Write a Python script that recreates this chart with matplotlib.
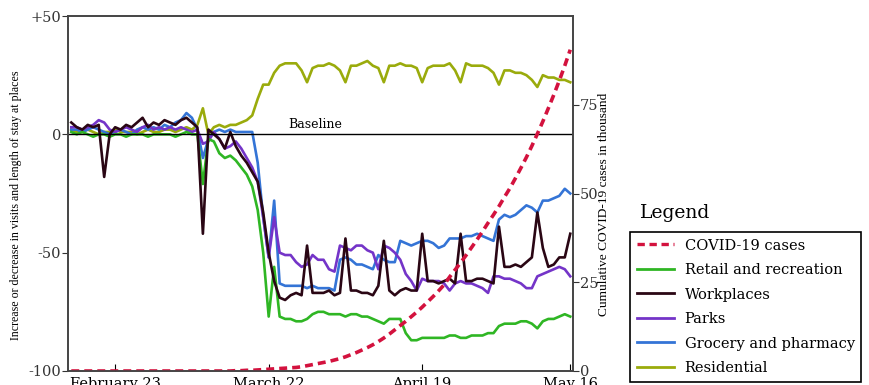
import matplotlib
matplotlib.use("Agg")
import matplotlib.pyplot as plt
from matplotlib.lines import Line2D

# day index 0 = February 15
days = list(range(92))
tick_days = [8, 36, 64, 91]
tick_labels = ["February 23", "March 22", "April 19", "May 16"]

residential = [2, 1, 1, 2, 1, 0, 1, 1, 2, 1, 1, 1, 0, 1, 2, 1, 1, 2, 2, 1, 2, 3, 2, 4,
               11, 0, 3, 4, 3, 4, 4, 5, 6, 8, 15, 21, 21, 26, 29, 30, 30, 30, 27, 22,
               28, 29, 29, 30, 29, 27, 22, 29, 29, 30, 31, 29, 28, 22, 29, 29, 30, 29,
               29, 28, 22, 28, 29, 29, 29, 30, 27, 22, 30, 29, 29, 29, 28, 26, 21, 27,
               27, 26, 26, 25, 23, 20, 25, 24, 24, 23, 23, 22]
workplaces = [5, 3, 2, 4, 3, 4, -18, 0, 3, 2, 4, 3, 5, 7, 3, 5, 4, 6, 5, 4, 6, 7, 5, 3,
              -42, 2, 0, -2, -6, 1, -5, -9, -12, -16, -20, -33, -50, -62, -69, -70, -68,
              -67, -68, -47, -67, -67, -67, -66, -68, -67, -44, -66, -66, -67, -67, -68,
              -64, -45, -66, -68, -66, -65, -66, -66, -42, -62, -62, -63, -62, -61, -63,
              -42, -62, -62, -61, -61, -62, -63, -39, -56, -56, -55, -56, -54, -52, -33,
              -48, -56, -55, -52, -52, -42]
retail = [1, 0, 1, 0, -1, 0, 0, -1, 0, 0, -1, 0, 0, 0, -1, 0, 0, 0, 0, -1, 0, 1, 0, 0,
          -21, -2, -3, -8, -10, -9, -11, -14, -17, -22, -32, -50, -77, -56, -77, -78, -78,
          -79, -79, -78, -76, -75, -75, -76, -76, -76, -77, -76, -76, -77, -77, -78, -79,
          -80, -78, -78, -78, -84, -87, -87, -86, -86, -86, -86, -86, -85, -85, -86, -86,
          -85, -85, -85, -84, -84, -81, -80, -80, -80, -79, -79, -80, -82, -79, -78, -78,
          -77, -76, -77]
parks = [3, 3, 2, 3, 4, 6, 5, 2, 1, 2, 3, 2, 1, 3, 4, 2, 3, 2, 3, 2, 3, 2, 1, 2,
         -4, -3, 1, -2, -6, -5, -3, -6, -10, -14, -20, -35, -52, -35, -50, -51, -51, -54,
         -56, -55, -51, -53, -53, -57, -58, -47, -48, -49, -47, -47, -49, -50, -57, -47,
         -48, -50, -53, -59, -62, -66, -61, -62, -62, -62, -63, -66, -63, -62, -63, -63,
         -64, -65, -67, -60, -60, -61, -61, -62, -63, -65, -65, -60, -59, -58, -57, -56,
         -57, -60]
grocery = [2, 2, 1, 2, 3, 2, 1, 0, 1, 2, 1, 0, 2, 3, 2, 3, 2, 4, 3, 5, 6, 9, 7, 2,
           -10, -2, 1, 2, 1, 2, 1, 1, 1, 1, -12, -35, -52, -28, -63, -64, -64, -64, -64,
           -65, -64, -65, -65, -65, -66, -53, -52, -53, -55, -55, -56, -57, -51, -53,
           -54, -54, -45, -46, -47, -46, -45, -45, -46, -48, -47, -44, -44, -44, -43, -43,
           -42, -43, -44, -45, -36, -34, -35, -34, -32, -30, -31, -33, -28, -28, -27, -26,
           -23, -25]
# cumulative cases, thousands
covid = [0.0] * 30 + [0.1, 0.1, 0.2, 0.2, 0.3, 0.4, 0.5, 0.6, 0.7, 0.8, 0.9, 1.0, 1.2,
                      1.5, 1.8, 2.1, 2.4, 2.7, 3.1, 3.5, 4.0, 4.6, 5.2, 5.9, 6.6, 7.4,
                      8.3, 9.3, 10.4, 11.6, 12.8, 14.0, 15.3, 16.6, 18.0, 19.5, 21.0,
                      22.6, 24.3, 26.5, 28.5, 30.5, 32.6, 34.8, 37.0, 39.3, 41.7, 44.0,
                      46.4, 49.0, 51.5, 54.3, 57.2, 60.2, 63.4, 66.8, 70.3, 74.0, 77.8,
                      81.8, 86.0, 90.5]

c_res = "#9aab0c"
c_work = "#2a0614"
c_retail = "#2fb624"
c_parks = "#7434c8"
c_groc = "#3474d6"
c_covid = "#d3123e"
serif = "DejaVu Serif"

fig = plt.figure(figsize=(8.7, 3.85), dpi=100)
ax = fig.add_axes([68 / 870, 14 / 385, 505 / 870, 355 / 385])

lw = 1.9
ax.plot(days, residential, color=c_res, lw=lw)
ax.plot(days, grocery, color=c_groc, lw=lw)
ax.plot(days, parks, color=c_parks, lw=lw)
ax.plot(days, retail, color=c_retail, lw=lw)
ax.plot(days, workplaces, color=c_work, lw=lw)
ax.axhline(0, color="black", lw=1)
ax.text(44.5, 1.5, "Baseline", ha="center", va="bottom", fontsize=9, family=serif)

ax.set_xlim(-0.6, 91.5)
ax.set_ylim(-100, 50)
ax.set_yticks([50, 0, -50, -100])
ax.set_yticklabels(["+50", "0", "-50", "-100"], family=serif, fontsize=10.5)
ax.set_xticks(tick_days)
ax.set_xticklabels(tick_labels, family=serif, fontsize=10.5)
ax.tick_params(axis="x", direction="in", length=5, pad=4)
ax.tick_params(axis="y", direction="out", length=4, pad=1, colors="#333333")
for s in ax.spines.values():
    s.set_color("#444444")
    s.set_linewidth(1.2)

ax2 = ax.twinx()
ax2.plot(days, covid, color=c_covid, lw=2.6, ls=(0, (2.2, 1.4)))
ax2.set_ylim(0, 100)
ax2.set_yticks([0, 25, 50, 75])
ax2.set_yticklabels(["0", "25", "50", "75"], family=serif, fontsize=10.5)
ax2.tick_params(axis="y", direction="out", length=4, pad=1, colors="#333333")
for s in ax2.spines.values():
    s.set_color("#444444")
    s.set_linewidth(1.2)

fig.text(16 / 870, 1 - 205 / 385, "Increase or decrease in visits and length of stay at places",
         rotation=90, ha="center", va="center", fontsize=8.6, family="Liberation Serif")
fig.text(604 / 870, 1 - 204 / 385, "Cumulative COVID-19 cases in thousand",
         rotation=90, ha="center", va="center", fontsize=9.6, family="Liberation Serif")

fig.text(640 / 870, 1 - 213 / 385, "Legend", ha="left", va="center", fontsize=13.5, family=serif)
handles = [
    Line2D([], [], color=c_covid, lw=2.4, ls=(0, (2.2, 1.4))),
    Line2D([], [], color=c_retail, lw=2),
    Line2D([], [], color=c_work, lw=2),
    Line2D([], [], color=c_parks, lw=2),
    Line2D([], [], color=c_groc, lw=2),
    Line2D([], [], color=c_res, lw=2),
]
names = ["COVID-19 cases", "Retail and recreation", "Workplaces", "Parks",
         "Grocery and pharmacy", "Residential"]
leg = fig.legend(handles, names, loc="upper left", bbox_to_anchor=(630 / 870, 1 - 232 / 385),
                 frameon=True, fancybox=False, edgecolor="black", framealpha=1,
                 prop={"family": serif, "size": 10.5}, handlelength=2.6,
                 labelspacing=0.72, borderpad=0.45, handletextpad=0.7, borderaxespad=0)
leg.get_frame().set_linewidth(1.2)

fig.savefig("out.png", dpi=100)
